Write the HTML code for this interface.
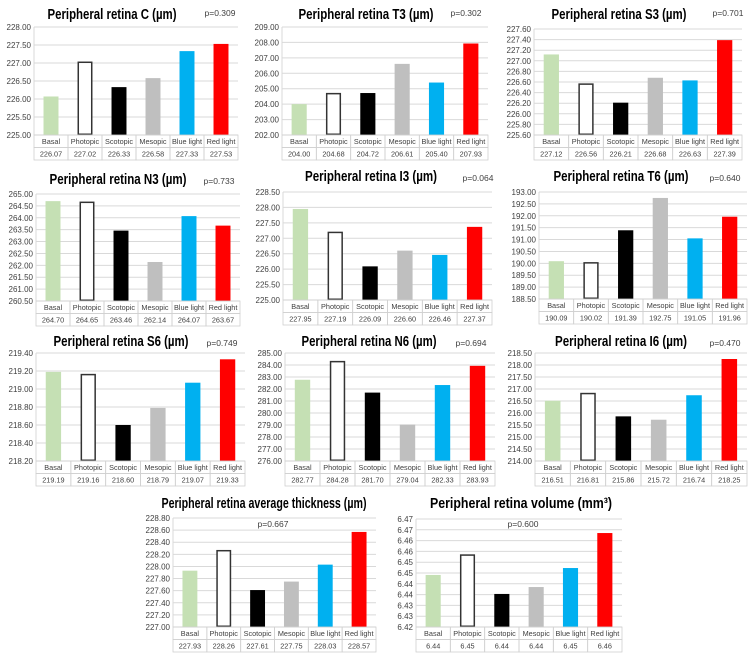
<!DOCTYPE html>
<html><head><meta charset="utf-8"><style>
body{margin:0;background:#fff;width:753px;height:657px;overflow:hidden}
svg{display:block;font-family:"Liberation Sans",sans-serif}
</style></head><body>
<svg id="chart" width="753" height="657" viewBox="0 0 753 657"></svg>
<script>
const categories = ["Basal","Photopic","Scotopic","Mesopic","Blue light","Red light"];
const valuesC  = [226.07,227.02,226.33,226.58,227.33,227.53];
const valuesT3 = [204.00,204.68,204.72,206.61,205.40,207.93];
const valuesS3 = [227.12,226.56,226.21,226.68,226.63,227.39];
const valuesN3 = [264.70,264.65,263.46,262.14,264.07,263.67];
const valuesI3 = [227.95,227.19,226.09,226.60,226.46,227.37];
const valuesT6 = [190.09,190.02,191.39,192.75,191.05,191.96];
const valuesS6 = [219.19,219.16,218.60,218.79,219.07,219.33];
const valuesN6 = [282.77,284.28,281.70,279.04,282.33,283.93];
const valuesI6 = [216.51,216.81,215.86,215.72,216.74,218.25];
const valuesAvg = [227.93,228.26,227.61,227.75,228.03,228.57];
const valuesVol = [6.4441,6.4533,6.4353,6.4385,6.4473,6.4635];
const labelsVol = ["6.44","6.45","6.44","6.44","6.45","6.46"];
const ticksC  = [225.0,225.5,226.0,226.5,227.0,227.5,228.0];
const ticksT3 = [202,203,204,205,206,207,208,209];
const ticksS3 = [225.6,225.8,226.0,226.2,226.4,226.6,226.8,227.0,227.2,227.4,227.6];
const ticksN3 = [260.5,261.0,261.5,262.0,262.5,263.0,263.5,264.0,264.5,265.0];
const ticksI3 = [225.0,225.5,226.0,226.5,227.0,227.5,228.0,228.5];
const ticksT6 = [188.5,189.0,189.5,190.0,190.5,191.0,191.5,192.0,192.5,193.0];
const ticksS6 = [218.2,218.4,218.6,218.8,219.0,219.2,219.4];
const ticksN6 = [276,277,278,279,280,281,282,283,284,285];
const ticksI6 = [214.0,214.5,215.0,215.5,216.0,216.5,217.0,217.5,218.0,218.5];
const ticksAvg = [227.0,227.2,227.4,227.6,227.8,228.0,228.2,228.4,228.6,228.8];
const ticksVol = [6.420,6.425,6.430,6.435,6.440,6.445,6.450,6.455,6.460,6.465,6.470];
const tickLabelsVol = ["6.42","6.43","6.43","6.44","6.44","6.45","6.45","6.46","6.46","6.47","6.47"];
const titles = ["Peripheral retina C (µm)","Peripheral retina T3 (µm)","Peripheral retina S3 (µm)",
"Peripheral retina N3 (µm)","Peripheral retina I3 (µm)","Peripheral retina T6 (µm)",
"Peripheral retina S6 (µm)","Peripheral retina N6 (µm)","Peripheral retina I6 (µm)",
"Peripheral retina average thickness  (µm)","Peripheral retina volume (mm³)"];
const pvalues = ["p=0.309","p=0.302","p=0.701","p=0.733","p=0.064","p=0.640","p=0.749","p=0.694","p=0.470","p=0.667","p=0.600"];
const colors = ["#c5e0b4","#ffffff","#000000","#bfbfbf","#00b0f0","#ff0000"];

const seriesList=[valuesC,valuesT3,valuesS3,valuesN3,valuesI3,valuesT6,valuesS6,valuesN6,valuesI6,valuesAvg,valuesVol];
const tickList=[ticksC,ticksT3,ticksS3,ticksN3,ticksI3,ticksT6,ticksS6,ticksN6,ticksI6,ticksAvg,ticksVol];
// layout: x0,x1,yTop,yBot,titleX,titleY,pX,pY,titleWidth
const layout=[
[34,238,27,135,112,19,220,16,129],
[282,488,27,135,366,19,466,16,135],
[534,742,29,135,619,19,728,16,135],
[36,240,194,301,118,184,219,184,137],
[283,492,192,300,371,181,478,181,132],
[539,747,192,299,621,181,725,181,135],
[36,245,353,461,121,346,222,346,135],
[285,495,353,461,369,346,471,346,135],
[535,747,353,461,621,346,725,346,132],
[173,376,518,627,264,508,273,527,205],
[416,622,519,627,521,508,523,527,182]];

const svg=document.getElementById('chart');
const NS="http://www.w3.org/2000/svg";
function mk(tag,attrs,parent){const e=document.createElementNS(NS,tag);for(const k in attrs)e.setAttribute(k,attrs[k]);(parent||svg).appendChild(e);return e;}

seriesList.forEach((vals,pi)=>{
  const [x0,x1,yT,yB,tx,ty,px,py,tw]=layout[pi];
  const ticks=tickList[pi];
  const g=mk('g',{});
  
  
  const lo=ticks[0],hi=ticks[ticks.length-1];
  const yS=v=>yB-(v-lo)/(hi-lo)*(yB-yT);
  const cw=(x1-x0)/categories.length;
  const xS=i=>x0+cw*i;
  ticks.forEach((t,ti)=>{
    const y=yS(t);
    const gl=mk('line',{x1:x0,x2:x1,y1:y,y2:y,stroke:'#d9d9d9','stroke-width':1},g);
    
    
    const tl=mk('text',{x:x0-3,y:y+3,'font-size':8,'text-anchor':'end',fill:'#404040'},g);
    
    
    tl.textContent=pi===10?tickLabelsVol[ti]:t.toFixed(2);
  });
  mk('line',{x1:x0,x2:x0,y1:yT,y2:yB,stroke:'#d9d9d9'},g);
  const bw=cw*0.44;
  vals.forEach((v,i)=>{
    const cx=xS(i)+cw/2, y=yS(v);
    const b=mk('rect',{x:cx-bw/2,y:y,width:bw,height:yB-y,fill:colors[i]},g);
    if(i===1){b.setAttribute('stroke','#333');b.setAttribute('stroke-width','1.5');b.setAttribute('x',cx-bw/2+0.75);b.setAttribute('width',bw-1.5);b.setAttribute('height',yB-y-0.75);}
    
    
  });
  const rh=12.5;
  for(let r=0;r<2;r++){
    for(let i=0;i<6;i++){
      mk('rect',{x:xS(i),y:yB+r*rh,width:cw,height:rh,fill:'none',stroke:'#d0d0d0','stroke-width':0.8},g);
      const t=mk('text',{x:xS(i)+cw/2,y:yB+r*rh+9,'font-size':7.3,'text-anchor':'middle',fill:'#404040'},g);
      
      
      t.textContent=r===0?categories[i]:(pi===10?labelsVol[i]:vals[i].toFixed(2));
    }
  }
  const tt=mk('text',{x:tx,y:ty,'font-size':14.5,'font-weight':'bold','text-anchor':'middle',fill:'#000',textLength:tw,lengthAdjust:'spacingAndGlyphs'},g);
  
  
  tt.textContent=titles[pi];
  const pt=mk('text',{x:px,y:py,'font-size':8.5,'text-anchor':'middle',fill:'#404040'},g);
  
  
  pt.textContent=pvalues[pi];
});
</script>
</body></html>
